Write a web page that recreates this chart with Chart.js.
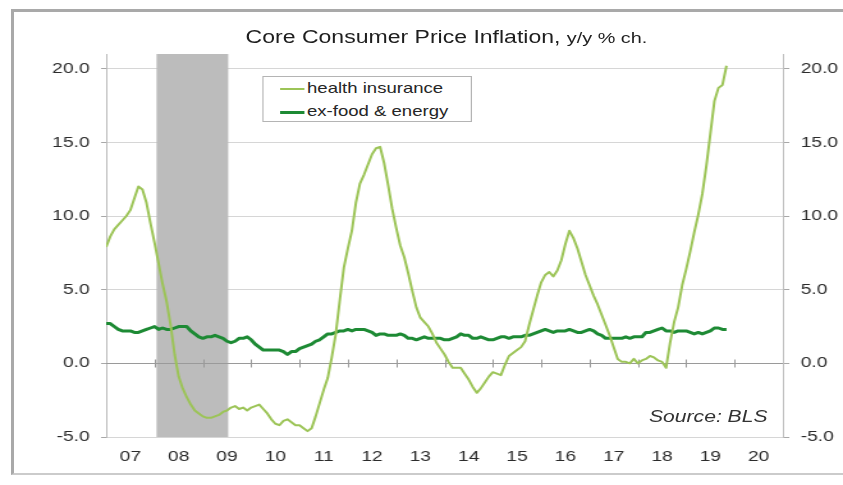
<!DOCTYPE html>
<html>
<head>
<meta charset="utf-8">
<script src="https://cdn.jsdelivr.net/npm/chart.js@4.4.0/dist/chart.umd.min.js"></script>
<style>
  html, body { margin:0; padding:0; background:#fff; }
  body { width:843px; height:485px; position:relative; overflow:hidden; font-family:"Liberation Sans", Arial, sans-serif; }
  /* outer frame of the original picture */
  .frame { position:absolute; left:11px; top:9px; width:900px; height:461px;
           border-left:3px solid #a9a9a9; border-top:3px solid #a9a9a9; border-bottom:2px solid #cbcbcb; }
  /* the source image is stretched sideways, so everything is drawn narrow and scaled */
  .stage { position:absolute; left:0; top:0; width:659px; height:485px; transform:scaleX(1.2792); transform-origin:0 0; }
  .stage canvas { position:absolute; left:0; top:0; }
  .title { position:absolute; left:349px; top:37px; transform:translate(-50%,-50%); white-space:nowrap;
           font-size:18px; color:#1e1e1e; }
  .title small { font-size:15.5px; }
  .legend { position:absolute; left:205px; top:76px; width:162px; height:44px; border:1px solid #b4b4b4; background:#fff; }
  .legend .row { position:absolute; left:13px; height:16px; line-height:16px; font-size:14.5px; color:#262626; white-space:nowrap; }
  .legend .sw { display:inline-block; width:19px; vertical-align:middle; margin-right:2px; }
  .source { position:absolute; right:59px; top:407px; font-size:16.5px; font-style:italic; color:#333; white-space:nowrap; }
</style>
</head>
<body>
<div class="frame"></div>
<div class="stage">
  <canvas id="myChart" width="659" height="485"></canvas>
  <div class="title">Core Consumer Price Inflation, <small>y/y % ch.</small></div>
  <div class="legend">
    <div class="row" style="top:3px"><span class="sw" style="height:2px;background:#9cc457"></span>health insurance</div>
    <div class="row" style="top:26px"><span class="sw" style="height:3px;background:#1d8a34"></span>ex-food &amp; energy</div>
  </div>
  <div class="source">Source: BLS</div>
</div>
<script>
// ---------------- 데이터 (monthly, Jan 2007 = 0) ---------------- //
const yearLabels = ['07','08','09','10','11','12','13','14','15','16','17','18','19','20'];
const recession = [12.5, 30.3];   // shaded band, in months

const healthIns = [
  7.9, 8.6, 9.1, 9.4, 9.7, 10.0, 10.4, 11.2, 12.0, 11.8, 10.9, 9.5,
  8.2, 6.8, 5.4, 4.2, 2.6, 0.6, -0.9, -1.7, -2.3, -2.8, -3.2, -3.4,
  -3.6, -3.7, -3.7, -3.6, -3.5, -3.3, -3.2, -3.0, -2.9, -3.1, -3.0, -3.2,
  -3.0, -2.9, -2.8, -3.1, -3.4, -3.8, -4.1, -4.2, -3.9, -3.8, -4.0, -4.2,
  -4.2, -4.4, -4.6, -4.4, -3.6, -2.7, -1.8, -1.0, 0.4, 2.0, 4.3, 6.5,
  7.8, 9.0, 10.9, 12.2, 12.8, 13.5, 14.2, 14.6, 14.7, 13.6, 12.1, 10.5,
  9.2, 8.0, 7.2, 6.1, 4.9, 3.8, 3.1, 2.8, 2.5, 2.0, 1.4, 1.0,
  0.6, 0.1, -0.3, -0.3, -0.3, -0.7, -1.1, -1.6, -2.0, -1.7, -1.3, -0.9,
  -0.6, -0.7, -0.8, -0.1, 0.5, 0.7, 0.9, 1.1, 1.5, 2.6, 3.6, 4.6,
  5.5, 6.0, 6.2, 5.9, 6.3, 7.0, 8.1, 9.0, 8.5, 7.8, 6.9, 6.0,
  5.3, 4.6, 4.0, 3.3, 2.6, 1.9, 1.1, 0.3, 0.1, 0.1, 0.0, 0.3,
  0.0, 0.2, 0.3, 0.5, 0.4, 0.2, 0.1, -0.3, 1.4, 2.8, 3.8, 5.3,
  6.4, 7.6, 8.9, 10.1, 11.5, 13.4, 15.6, 17.8, 18.7, 18.9, 20.2
];

const exFoodEnergy = [
  2.7, 2.7, 2.5, 2.3, 2.2, 2.2, 2.2, 2.1, 2.1, 2.2, 2.3, 2.4,
  2.5, 2.3, 2.4, 2.3, 2.3, 2.4, 2.5, 2.5, 2.5, 2.2, 2.0, 1.8,
  1.7, 1.8, 1.8, 1.9, 1.8, 1.7, 1.5, 1.4, 1.5, 1.7, 1.7, 1.8,
  1.6, 1.3, 1.1, 0.9, 0.9, 0.9, 0.9, 0.9, 0.8, 0.6, 0.8, 0.8,
  1.0, 1.1, 1.2, 1.3, 1.5, 1.6, 1.8, 2.0, 2.0, 2.1, 2.2, 2.2,
  2.3, 2.2, 2.3, 2.3, 2.3, 2.2, 2.1, 1.9, 2.0, 2.0, 1.9, 1.9,
  1.9, 2.0, 1.9, 1.7, 1.7, 1.6, 1.7, 1.8, 1.7, 1.7, 1.7, 1.7,
  1.6, 1.6, 1.7, 1.8, 2.0, 1.9, 1.9, 1.7, 1.7, 1.8, 1.7, 1.6,
  1.6, 1.7, 1.8, 1.8, 1.7, 1.8, 1.8, 1.8, 1.9, 1.9, 2.0, 2.1,
  2.2, 2.3, 2.2, 2.1, 2.2, 2.2, 2.2, 2.3, 2.2, 2.1, 2.1, 2.2,
  2.3, 2.2, 2.0, 1.9, 1.7, 1.7, 1.7, 1.7, 1.7, 1.8, 1.7, 1.8,
  1.8, 1.8, 2.1, 2.1, 2.2, 2.3, 2.4, 2.2, 2.2, 2.1, 2.2, 2.2,
  2.2, 2.1, 2.0, 2.1, 2.0, 2.1, 2.2, 2.4, 2.4, 2.3, 2.3
];

const yTicks = [-5, 0, 5, 10, 15, 20];

// ---------------- 차트 ---------------- //
const font = { family: '"Liberation Sans", Arial, sans-serif', size: 15 };

// recession band + year marks on the zero line
const extras = {
  id: 'extras',
  beforeDatasetsDraw(chart) {
    const { ctx, chartArea: a, scales: { x, y } } = chart;
    ctx.save();
    const x0 = x.getPixelForValue(recession[0]);
    const x1 = x.getPixelForValue(recession[1]);
    ctx.fillStyle = '#bcbcbc';
    ctx.fillRect(x0, a.top, x1 - x0, a.bottom - a.top);

    const y0 = Math.round(y.getPixelForValue(0)) + 0.5;
    ctx.strokeStyle = '#9a9a9a';
    ctx.lineWidth = 1;
    ctx.beginPath();
    ctx.moveTo(a.left, y0); ctx.lineTo(a.right, y0);
    ctx.stroke();
    for (let i = 1; i < yearLabels.length; i++) {
      const px = Math.round(x.getPixelForValue(i * 12)) + 0.5;
      ctx.beginPath();
      ctx.moveTo(px, y0 - 4); ctx.lineTo(px, y0 + 4);
      ctx.stroke();
    }
    ctx.restore();
  }
};

const yAxis = (pos, width, tickLen) => ({
  position: pos, min: -5, max: 21,
  afterFit(s) { s.width = width; },
  afterBuildTicks(s) { s.ticks = yTicks.map(v => ({ value: v })); },
  ticks: { padding: 9, color: '#2b2b2b', font, callback: v => v.toFixed(1) },
  grid: {
    drawOnChartArea: pos === 'left',
    color: c => (c.tick && c.tick.value === 0) ? '#9a9a9a' : '#d6d6d6',
    tickColor: '#a8a8a8', tickLength: tickLen
  },
  border: { color: '#bdbdbd' }
});

new Chart(document.getElementById('myChart'), {
  type: 'line',
  data: {
    datasets: [{
      label: 'health insurance',
      data: healthIns.map((v, i) => ({ x: i, y: v })),
      borderColor: '#9cc457', borderWidth: 2, yAxisID: 'y'
    }, {
      label: 'ex-food & energy',
      data: exFoodEnergy.map((v, i) => ({ x: i, y: v })),
      borderColor: '#1d8a34', borderWidth: 3, yAxisID: 'y'
    }]
  },
  options: {
    responsive: false,
    animation: false,
    layout: { padding: { top: 54, left: 0, right: 0, bottom: 0 } },
    elements: { point: { radius: 0 }, line: { tension: 0, borderJoinStyle: 'round' } },
    plugins: { legend: { display: false }, tooltip: { enabled: false } },
    scales: {
      x: {
        type: 'linear', min: 0, max: yearLabels.length * 12,
        afterFit(s) { s.height = 48; },
        afterBuildTicks(s) { s.ticks = yearLabels.map((t, i) => ({ value: 6 + 12 * i })); },
        ticks: { autoSkip: false, maxRotation: 0, padding: 11, color: '#2b2b2b', font,
                 callback: v => yearLabels[Math.round((v - 6) / 12)] },
        grid: { display: false, drawTicks: false },
        border: { display: false }
      },
      y: yAxis('left', 83, 4),
      y2: yAxis('right', 47, 5)
    }
  },
  plugins: [extras]
});
</script>
</body>
</html>
